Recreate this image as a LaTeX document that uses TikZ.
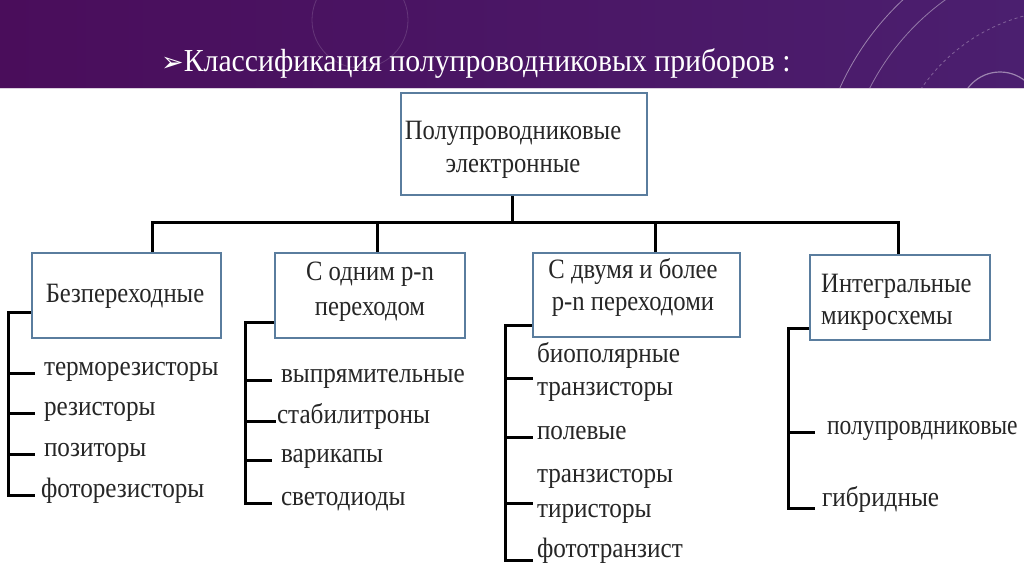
\documentclass[tikz,border=0pt]{standalone}
\usepackage{fontspec}
\setmainfont{Liberation Serif}
\newfontfamily\djv{DejaVu Sans}
\usepackage{graphicx}
\definecolor{hdr}{HTML}{4A0D5B}
\definecolor{hdrR}{HTML}{4B1F6F}
\definecolor{boxb}{HTML}{5A7D9E}
\newcommand{\cz}[1]{\scalebox{0.88}[1]{#1}}
\newcommand{\cy}[1]{\scalebox{0.9}[1]{#1}}
\tikzset{
  box/.style={draw=boxb, line width=2.8pt, fill=white, inner sep=0pt},
  lbl/.style={inner sep=0pt, align=center, font=\fontsize{28}{33}\selectfont, text=black!85},
  item/.style={anchor=west, inner sep=0pt, outer sep=0pt, font=\fontsize{28}{33}\selectfont, text height=0.7em, text depth=0.2em, text=black!85},
  conn/.style={line width=3pt, black},
  deco/.style={white, line width=0.8pt},
}
\begin{document}
\begin{tikzpicture}[x=1pt,y=-1pt]
\useasboundingbox (0,0) rectangle (1024,574);
\fill[white] (0,0) rectangle (1024,574);
\begin{scope}
\clip (0,0) rectangle (1024,88);
\shade[left color=hdr, right color=hdrR] (0,0) rectangle (1024,88);
\draw[deco, opacity=0.45] (1090,200) circle (274);
\draw[deco, opacity=0.4] (1090,200) circle (247);
\draw[deco, opacity=0.3, dashed] (1070,190) circle (180);
\draw[deco, opacity=0.45, line width=1.2pt] (1000,112) circle (40);
\draw[deco, opacity=0.15] (360,20) circle (48);
\end{scope}
\draw[white!80!hdr, line width=1pt] (0,88) -- (1024,88);
\node[anchor=base west, text=white, inner sep=0pt] (title) at (161,71)
  {\fontsize{27}{28}\selectfont\djv ➢\rmfamily\fontsize{32}{34}\selectfont\scalebox{0.93}[1]{Классификация полупроводниковых приборов :}};

% boxes
\node[box, minimum width=246, minimum height=102] (top) at (524,144) {};
\node[box, minimum width=189, minimum height=85] (b1) at (126.5,295.5) {};
\node[box, minimum width=190, minimum height=85] (b2) at (370,295.5) {};
\node[box, minimum width=207, minimum height=84] (b3) at (636.5,295) {};
\node[box, minimum width=180, minimum height=85] (b4) at (900,297.5) {};
\node[lbl] (topt) at (513,150) {\cz{Полупроводниковые}\\\cz{электронные}};
\node[lbl] (b1t) at (125,296) {\cz{Безпереходные}};
\node[lbl] (b2t) at (370,292) {\cz{С одним p-n}\\[2pt]\cz{переходом}};
\node[lbl] (b3t) at (633,287) {\cz{С двумя и более}\\[-1pt]\cz{p-n переходоми}};
\node[lbl, anchor=west, align=left] (b4t) at (821,302) {\cz{Интегральные}\\[-1pt]\cz{микросхемы}};

% bus
\coordinate (bus) at (512,222);
\coordinate (d1) at (152,222);
\coordinate (d2) at (377,222);
\coordinate (d3) at (655,222);
\coordinate (d4) at (898,222);
\draw[conn] (top.south -| bus) -- (bus);
\draw[conn] (b1.north -| d1) -- (d1) -- (d4) -- (b4.north -| d4);
\draw[conn] (d2) -- (b2.north -| d2);
\draw[conn] (d3) -- (b3.north -| d3);

% group 1
\node[item] (i11) at (44,373) {\cy{терморезисторы}};
\node[item] (i12) at (44,413) {\cy{резисторы}};
\node[item] (i13) at (44,454) {\cy{позиторы}};
\node[item] (i14) at (41,495) {\cy{фоторезисторы}};
\coordinate (v1) at (8,312);
\draw[conn] ([yshift=-16.5]b1.west) -- (v1) |- ([xshift=-6]i14.west);
\foreach \n in {i11,i12,i13} \draw[conn] (v1 |- \n.west) -- ([xshift=-9]\n.west);

% group 2
\node[item] (i21) at (281,380) {\cy{выпрямительные}};
\node[item] (i22) at (277,421) {\cy{стабилитроны}};
\node[item] (i23) at (281,460) {\cy{варикапы}};
\node[item] (i24) at (281,503) {\cy{светодиоды}};
\coordinate (v2) at (245,322);
\draw[conn] ([yshift=-26.5]b2.west) -- (v2) |- ([xshift=-9]i24.west);
\foreach \n in {i21,i23} \draw[conn] (v2 |- \n.west) -- ([xshift=-9]\n.west);
\draw[conn] (v2 |- i22.west) -- ([xshift=-1]i22.west);

% group 3
\node[item] (i31) at (537,360) {\cy{биополярные}};
\node[item] (i3b) at (537,393) {\cy{транзисторы}};
\node[item] (i32) at (537,437) {\cy{полевые}};
\node[item] (i33) at (537,480) {\cy{транзисторы}};
\node[item] (i34) at (537,515) {\cy{тиристоры}};
\node[item] (i35) at (537,555) {\cy{фототранзист}};
\coordinate (v3) at (505,325);
\coordinate (t31) at (533,378);
\coordinate (t34) at (533,503);
\coordinate (t35) at (533,560);
\draw[conn] ([yshift=-30]b3.west) -- (v3) |- (t35);
\draw[conn] (v3 |- t31) -- (t31);
\draw[conn] (v3 |- i32.west) -- ([xshift=-4]i32.west);
\draw[conn] (v3 |- t34) -- (t34);

% group 4
\node[item] (i41) at (827,432) {\scalebox{0.84}[1]{полупровдниковые}};
\node[item] (i42) at (822,504) {\cy{гибридные}};
\coordinate (v4) at (788,328);
\coordinate (t42) at (815,508);
\draw[conn] ([yshift=-30.5]b4.west) -- (v4) |- (t42);
\draw[conn] (v4 |- i41.west) -- ([xshift=-12]i41.west);
\end{tikzpicture}
\end{document}
